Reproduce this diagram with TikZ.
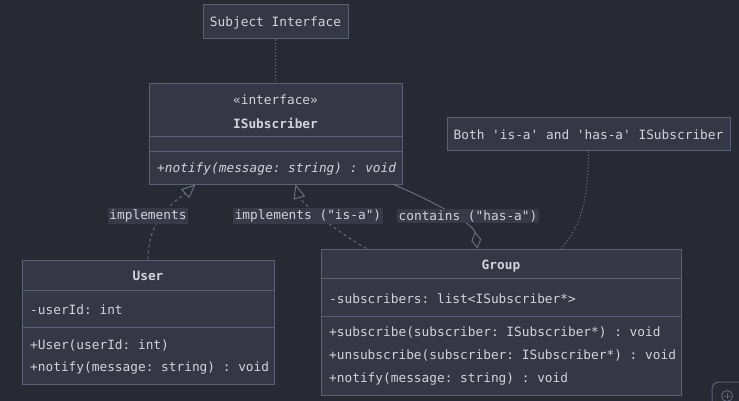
\documentclass[tikz,border=0pt]{standalone}
\usepackage{fontspec}
\setmonofont{DejaVu Sans Mono}
\usetikzlibrary{positioning,arrows.meta}

\definecolor{bgcol}{HTML}{282A33}
\definecolor{boxfill}{HTML}{363744}
\definecolor{boxline}{HTML}{5D5F74}
\definecolor{edgecol}{HTML}{6E7085}
\definecolor{txtcol}{HTML}{D2D3DB}
\definecolor{lblfill}{HTML}{383A47}

\begin{document}
\begin{tikzpicture}[
    x = 1pt, y = -1pt,
    font = \ttfamily\fontsize{12.8}{15}\selectfont,
    text = txtcol,
    classbox/.style={rectangle, draw=boxline, fill=boxfill, line width=1pt, inner sep=0pt, text depth=0pt},
    divider/.style={draw=boxline, line width=1pt},
    member/.style={anchor=west, inner sep=0pt, text depth=0pt},
    title/.style={inner sep=0pt, text depth=0pt, font=\ttfamily\bfseries\fontsize{12.8}{15}\selectfont},
    stereo/.style={inner sep=0pt, text depth=0pt},
    lbl/.style={fill=lblfill, inner sep=1.5pt},
    realize/.style={draw=edgecol, line width=0.9pt, dash pattern=on 3pt off 3pt,
        -{Triangle[open, length=14pt, width=12pt, line width=0.9pt]}},
    aggregate/.style={draw=edgecol, line width=0.9pt,
        -{Diamond[open, length=17pt, width=10pt, line width=0.9pt]}},
    noteline/.style={draw=edgecol, line width=0.9pt, dash pattern=on 1.2pt off 2pt}
]

% Background and page size
\fill[bgcol] (0,0) rectangle (739,401);
\useasboundingbox (0,0) rectangle (739,401);

% Notes
\node[classbox, minimum width=145pt, minimum height=34pt] (subject) at (275.5,22) {Subject Interface};
\node[classbox, minimum width=283pt, minimum height=33pt] (note) at (588.5,134.5) {Both 'is-a' and 'has-a' ISubscriber};

% Interface ISubscriber
\node[classbox, minimum width=253pt, minimum height=100pt] (isub) at (275.5,134) {};
\node[stereo] (isubst) at (275.5,100) {«interface»};
\node[title] (isubname) at (275.5,123) {ISubscriber};
\draw[divider] ([yshift=-53pt]isub.north west) -- ([yshift=-53pt]isub.north east);
\draw[divider] ([yshift=-68pt]isub.north west) -- ([yshift=-68pt]isub.north east);
\node[member] (isubop) at (157,168) {\itshape +notify(message: string) : void};

% Class User
\node[classbox, minimum width=252pt, minimum height=124pt] (user) at (148,322) {};
\node[title] (username) at (148,276) {User};
\draw[divider] ([yshift=-31pt]user.north west) -- ([yshift=-31pt]user.north east);
\draw[divider] ([yshift=-68pt]user.north west) -- ([yshift=-68pt]user.north east);
\node[member] (userattr) at (30,310) {-userId: int};
\node[member] (userctor) at (30,345) {+User(userId: int)};
\node[member] (userop) at (30,367) {+notify(message: string) : void};

% Class Group
\node[classbox, minimum width=360pt, minimum height=146pt] (group) at (501,322) {};
\node[title] (groupname) at (501,265) {Group};
\draw[divider] ([yshift=-30pt]group.north west) -- ([yshift=-30pt]group.north east);
\draw[divider] ([yshift=-68pt]group.north west) -- ([yshift=-68pt]group.north east);
\node[member] (groupattr) at (329,299) {-subscribers: list<ISubscriber*>};
\node[member] (groupsub) at (329,332) {+subscribe(subscriber: ISubscriber*) : void};
\node[member] (groupunsub) at (329,355) {+unsubscribe(subscriber: ISubscriber*) : void};
\node[member] (groupop) at (329,378) {+notify(message: string) : void};

% Note links
\draw[noteline] (subject.south) -- (isub.north);
\draw[noteline] (note.south) .. controls (588,205) and (580,226) .. ([xshift=241pt]group.north west);

% Relations
\draw[realize] (user.north) .. controls (148,215) and (178,200) .. ([xshift=47pt]isub.south west);
\draw[realize] ([xshift=46pt]group.north west) .. controls (330,228) and (300,200) .. ([xshift=147pt]isub.south west);
\draw[aggregate] ([xshift=-9pt]isub.south east) .. controls (440,204) and (474,225) .. ([xshift=157pt]group.north west);

% Relation labels
\node[lbl] (implUser) at (148,216) {implements};
\node[lbl] (implGroup) at (308,216) {implements ("is-a")};
\node[lbl] (contains) at (468,216) {contains ("has-a")};

% Corner control
\draw[boxline, line width=1pt, rounded corners=7pt] (712,405) -- (712,382) -- (745,382);
\draw[boxline, line width=1pt] (727,396) circle (5.5pt);
\draw[boxline, line width=1pt] (724,396) -- (730,396) (727,393) -- (727,399);

\end{tikzpicture}
\end{document}
